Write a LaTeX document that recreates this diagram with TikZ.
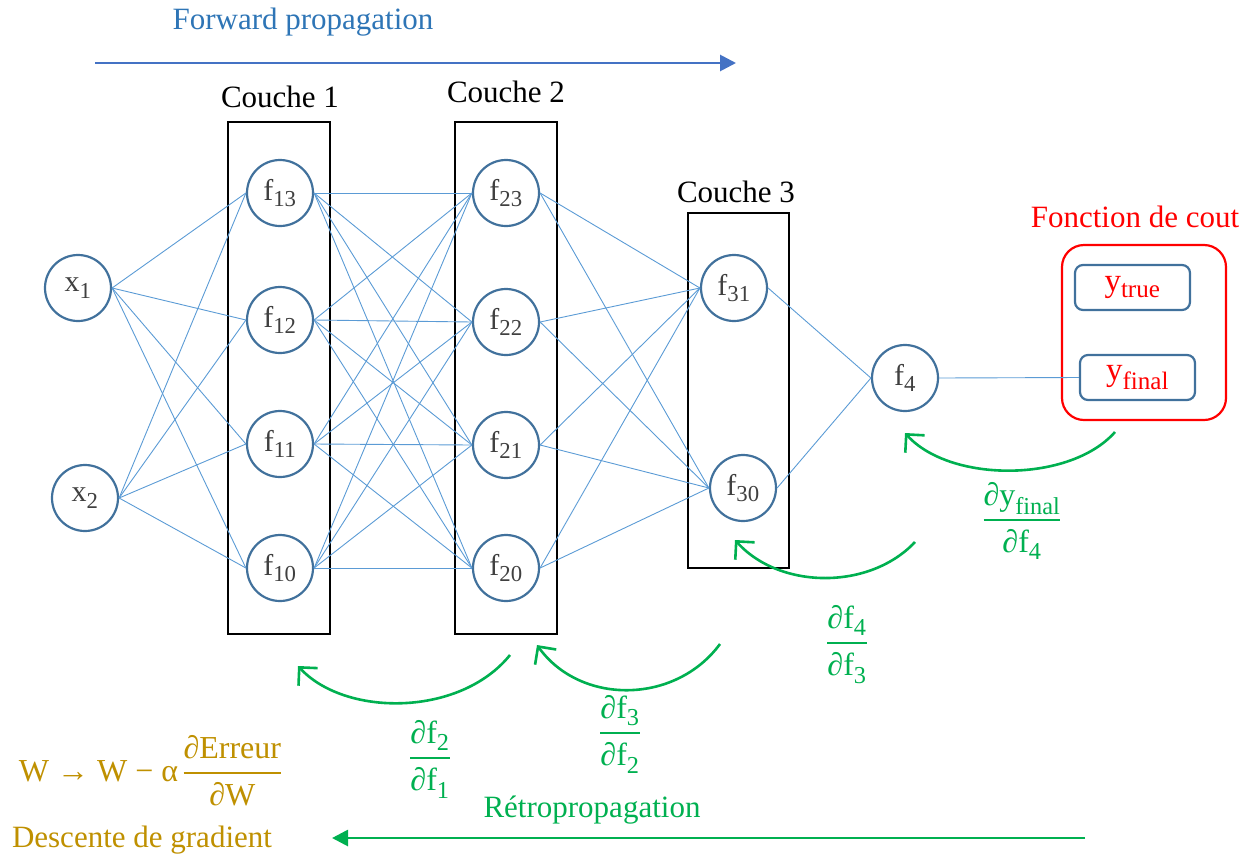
\documentclass[tikz,border=0pt]{standalone}
\usepackage{fontspec}
\setmainfont{Liberation Serif}
\usetikzlibrary{arrows.meta}
\definecolor{lblue}{HTML}{5B9BD5}
\definecolor{cblue}{HTML}{41719C}
\definecolor{ablue}{HTML}{4472C4}
\definecolor{tblue}{HTML}{2E75B6}
\definecolor{gr}{HTML}{00B050}
\definecolor{gold}{HTML}{BF9000}
\definecolor{txt}{HTML}{404040}
\renewcommand\defaultscriptratio{.76}
\newcommand\sub[1]{\textsubscript{#1}}
\setlength\arrayrulewidth{1.6pt}
\newcommand\fr[2]{\begin{tabular}{@{}c@{}}#1\\[3pt]\hline\rule{0pt}{1.0em}#2\end{tabular}}
\begin{document}
\begin{tikzpicture}[x=1pt,y=-1pt,
  neur/.style={circle, draw=cblue, line width=2.2pt, minimum size=66pt, inner sep=0pt, text=txt, font=\fontsize{30}{32}\selectfont},
  conn/.style={lblue, line width=0.9pt},
  layerbox/.style={draw=black, line width=2.4pt, inner sep=0pt},
  lbl/.style={font=\fontsize{31}{34}\selectfont, inner sep=0pt},
  ybox/.style={draw=cblue, line width=2.2pt, rounded corners=8pt, minimum width=115pt, minimum height=45pt, inner sep=0pt, text=red, font=\fontsize{33}{36}\selectfont},
  garrow/.style={gr, line width=2.6pt, -{Straight Barb[length=13pt,width=26pt,line width=2.6pt]}},
  frac/.style={text=gr, font=\fontsize{32}{35}\selectfont, inner sep=0pt}]
\useasboundingbox (0,0) rectangle (1257,857);

% layer boxes
\node[layerbox, minimum width=102pt, minimum height=512pt] (box1) at (279,378) {};
\node[layerbox, minimum width=102pt, minimum height=512pt] (box2) at (506,378) {};
\node[layerbox, minimum width=101pt, minimum height=355pt] (box3) at (738.5,390.5) {};
\node[lbl] (c1) at (280,97) {Couche 1};
\node[lbl] (c2) at (506,92) {Couche 2};
\node[lbl] (c3) at (736,192) {Couche 3};

% neurons
\node[neur] (x1) at (78,288) {x\sub{1}};
\node[neur] (x2) at (85,498) {x\sub{2}};
\node[neur] (f13) at (280,193) {f\sub{13}};
\node[neur] (f12) at (280,320) {f\sub{12}};
\node[neur] (f11) at (280,444) {f\sub{11}};
\node[neur] (f10) at (280,568) {f\sub{10}};
\node[neur] (f23) at (506,193) {f\sub{23}};
\node[neur] (f22) at (506,322) {f\sub{22}};
\node[neur] (f21) at (506,445) {f\sub{21}};
\node[neur] (f20) at (506,568) {f\sub{20}};
\node[neur] (f31) at (734,288) {f\sub{31}};
\node[neur] (f30) at (743,488) {f\sub{30}};
\node[neur] (f4) at (905,378) {f\sub{4}};

% cost function
\node[draw=red, line width=2.2pt, rounded corners=22pt, minimum width=164pt, minimum height=175pt, inner sep=0pt] (cost) at (1144,332.5) {};
\node[lbl, text=red] (costlbl) at (1135,217) {Fonction de cout};
\node[ybox] (ytrue) at (1132.5,287.5) {y\sub{true}};
\node[ybox] (yfinal) at (1137.5,377.5) {y\sub{final}};

% connections
\foreach \a in {x1,x2}
  \foreach \b in {f13,f12,f11,f10}
    \draw[conn] (\a.east) -- (\b.west);
\foreach \a in {f13,f12,f11,f10}
  \foreach \b in {f23,f22,f21,f20}
    \draw[conn] (\a.east) -- (\b.west);
\foreach \a in {f23,f22,f21,f20}
  \foreach \b in {f31,f30}
    \draw[conn] (\a.east) -- (\b.west);
\foreach \a in {f31,f30}
  \draw[conn] (\a.east) -- (f4.west);
\draw[conn] (f4.east) -- (yfinal.west);

% forward propagation
\node[lbl, text=tblue] (fwd) at (303,22) {Forward propagation};
\coordinate (fa) at (95,63);
\coordinate (fb) at (736,63);
\draw[ablue, line width=2.8pt, -{Triangle[length=16pt,width=16pt]}] (fa) -- (fb);

% back-propagation curved arrows
\coordinate (a1s) at (1115,432);
\coordinate (a1e) at (905,433);
\draw[garrow] (a1s) .. controls (1070,483) and (950,483) .. (a1e);
\coordinate (a2s) at (915,542);
\coordinate (a2e) at (735,540);
\draw[garrow] (a2s) .. controls (870,590) and (780,590) .. (a2e);
\coordinate (a3s) at (720,644);
\coordinate (a3e) at (537,645);
\draw[garrow] (a3s) .. controls (675,705) and (580,705) .. (a3e);
\coordinate (a4s) at (510,655);
\coordinate (a4e) at (298,666);
\draw[garrow] (a4s) .. controls (460,717) and (345,717) .. (a4e);

% fractions
\node[frac] (d1) at (1022,522) {\fr{∂y\sub{final}}{∂f\sub{4}}};
\node[frac] (d2) at (847,645) {\fr{∂f\sub{4}}{∂f\sub{3}}};
\node[frac] (d3) at (620,735) {\fr{∂f\sub{3}}{∂f\sub{2}}};
\node[frac] (d4) at (430,760) {\fr{∂f\sub{2}}{∂f\sub{1}}};

% retropropagation
\node[lbl, text=gr] (retro) at (592,810) {Rétropropagation};
\coordinate (ra) at (1085,838);
\coordinate (rb) at (332,838);
\draw[gr, line width=2.8pt, -{Triangle[length=16pt,width=16pt]}] (ra) -- (rb);

% gradient descent
\node[lbl, text=gold, font=\fontsize{32}{35}\selectfont] (form) at (150,775) {W → W − α\,\fr{∂Erreur}{∂W}};
\node[lbl, text=gold] (desc) at (142,840) {Descente de gradient};
\end{tikzpicture}
\end{document}
